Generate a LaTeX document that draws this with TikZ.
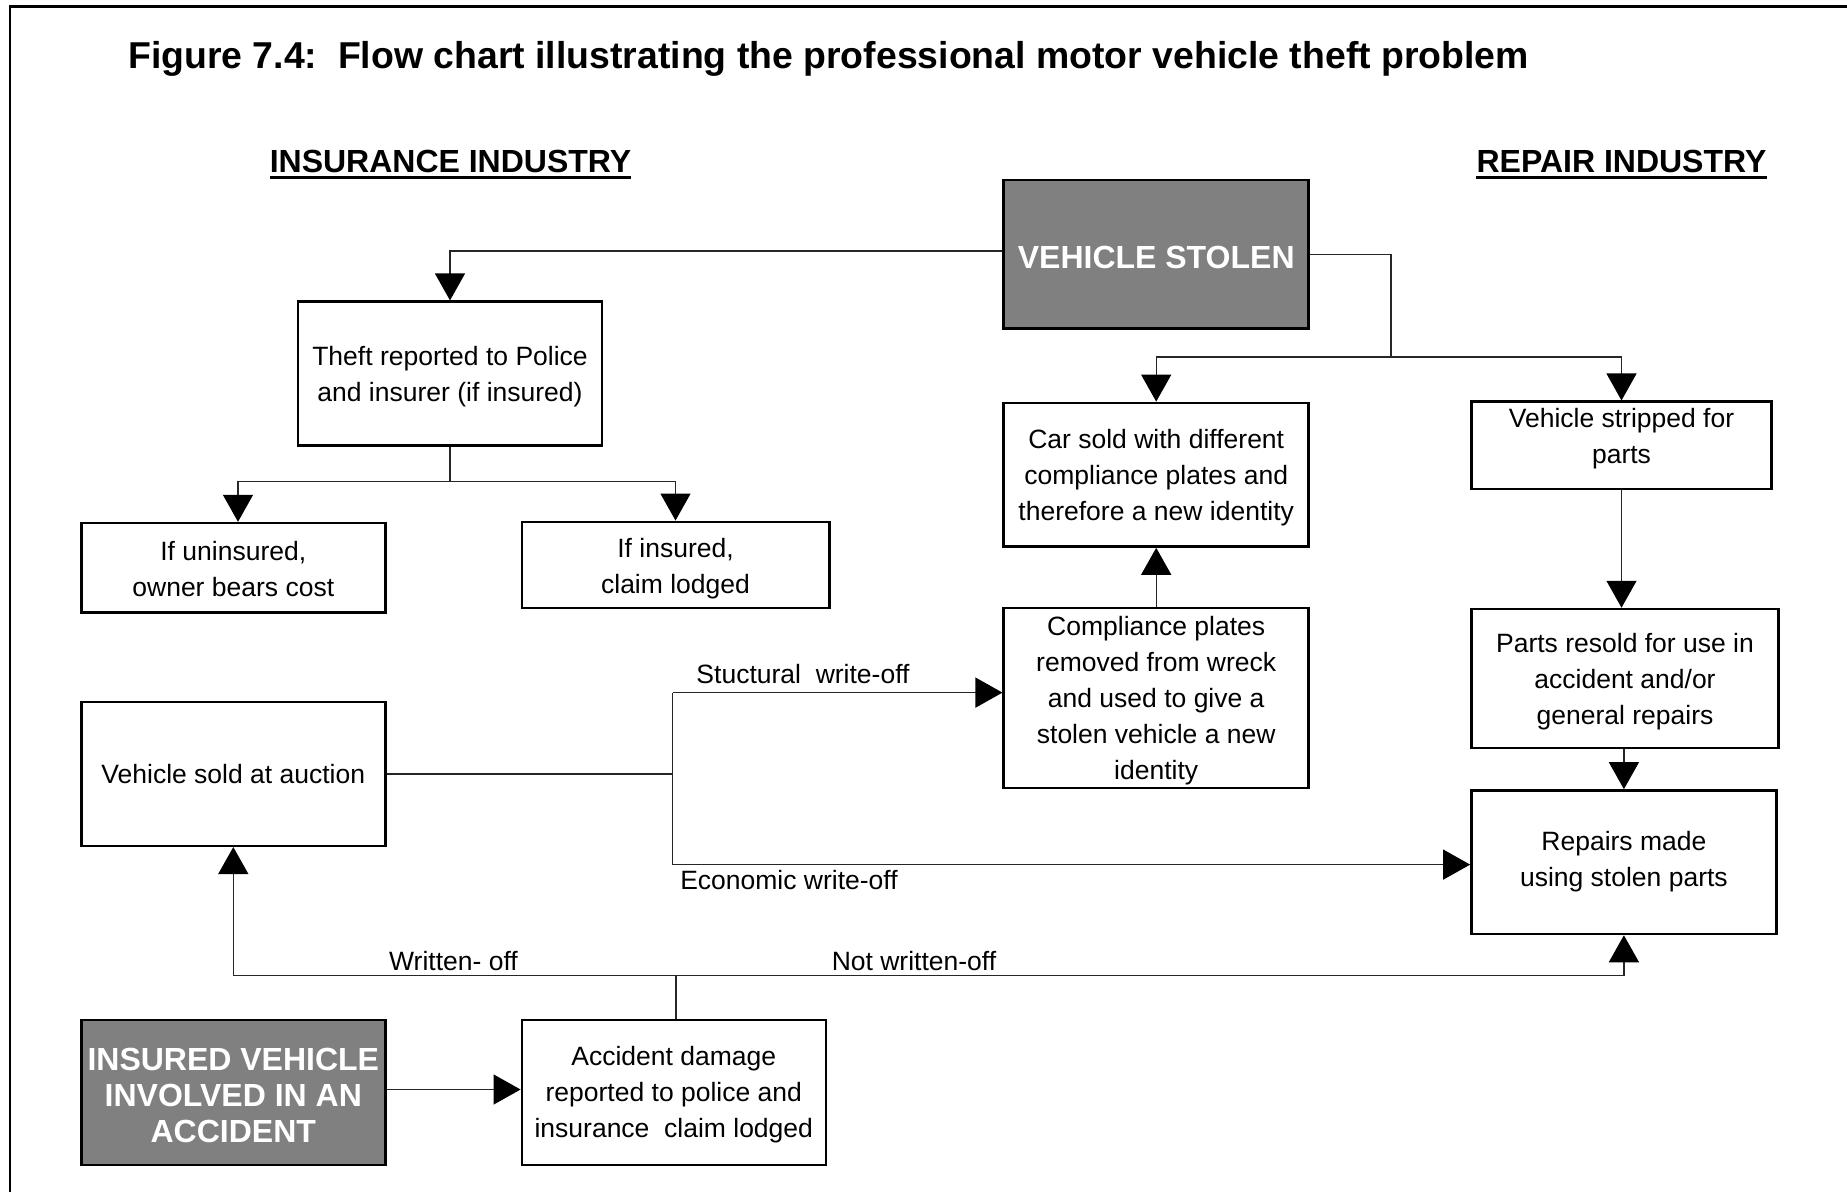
\documentclass[tikz,border=0pt]{standalone}
\usepackage{fontspec}
\setmainfont{Liberation Sans}
\usetikzlibrary{arrows.meta}
\definecolor{boxgray}{HTML}{808080}
\newcommand\tstrut[1]{\rule{0pt}{#1}}
\tikzset{
  box/.style={draw=black, line width=2.5pt, rectangle, align=center, inner sep=0pt, font=\fontsize{26.5}{36}\selectfont},
  darkbox/.style={box, fill=boxgray, text=white, font=\fontsize{32}{36}\selectfont\bfseries},
  conn/.style={line width=1.3pt, draw=black!85},
  arr/.style={conn, -{Triangle[length=27pt,width=30pt,color=black]}},
  lbl/.style={font=\fontsize{26.5}{32}\selectfont, inner sep=0pt},
  hdr/.style={font=\fontsize{32}{36}\selectfont\bfseries, inner sep=0pt},
}
\begin{document}
\begin{tikzpicture}[x=1pt,y=-1pt]
\useasboundingbox (0,0) rectangle (1847,1192);
% frame
\draw[line width=2.5pt] (10,1192) -- (10,6.5) -- (1847,6.5);
% title
\node[anchor=west, inner sep=0pt, font=\fontsize{37.4}{40}\selectfont\bfseries] (title) at (128,58.5) {Figure 7.4:\ \ Flow chart illustrating the professional motor vehicle theft problem};
% headers
\node[hdr] (hins) at (450.5,161.5) {INSURANCE INDUSTRY};
\draw[line width=3pt] ([yshift=-4.5pt]hins.base west) -- ([yshift=-4.5pt]hins.base east);
\node[hdr] (hrep) at (1621.5,161.5) {REPAIR INDUSTRY};
\draw[line width=3pt] ([yshift=-4.5pt]hrep.base west) -- ([yshift=-4.5pt]hrep.base east);
% boxes
\node[darkbox, minimum width=305pt, minimum height=148.4pt] (vs) at (1156.2,254.4) {\tstrut{27.5pt}VEHICLE STOLEN};
\node[box, minimum width=304pt, minimum height=143.7pt] (theft) at (450,373.5) {\tstrut{26pt}Theft reported to Police\\and insurer (if insured)};
\node[box, minimum width=304pt, minimum height=89.5pt] (unins) at (233.3,567.8) {\tstrut{21.5pt}If uninsured,\\owner bears cost};
\node[box, minimum width=307.5pt, minimum height=86pt] (ins) at (675.5,564.8) {\tstrut{26.5pt}If insured,\\claim lodged};
\node[box, minimum width=305pt, minimum height=143.7pt] (carsold) at (1156.2,474.7) {\tstrut{25.5pt}Car sold with different\\compliance plates and\\therefore a new identity};
\node[box, minimum width=300pt, minimum height=87.2pt,
  label={[lbl, align=center, font=\fontsize{26.5}{36}\selectfont, yshift=7pt]center:Vehicle stripped for\\parts}] (stripped) at (1621.5,445.3) {};
\node[box, minimum width=305pt, minimum height=180.2pt] (compl) at (1156.2,697.9) {\tstrut{24.5pt}Compliance plates\\removed from wreck\\and used to give a\\stolen vehicle a new\\identity};
\node[box, minimum width=307.4pt, minimum height=139pt] (parts) at (1625,678.5) {\tstrut{26pt}Parts resold for use in\\accident and/or\\general repairs};
\node[box, minimum width=305pt, minimum height=143.6pt,
  label={[lbl, align=center, font=\fontsize{26.5}{36}\selectfont, yshift=1pt]center:Repairs made\\using stolen parts}] (repairs) at (1623.9,862.2) {};
\node[box, minimum width=304pt, minimum height=143.8pt] (auction) at (233.3,773.9) {Vehicle sold at auction};
\node[darkbox, minimum width=304pt, minimum height=145pt] (insveh) at (233.3,1092.5) {\tstrut{27.5pt}INSURED VEHICLE\\INVOLVED IN AN\\ACCIDENT};
\node[box, minimum width=304pt, minimum height=145pt] (accid) at (673.8,1092.5) {\tstrut{23.5pt}Accident damage\\reported to police and\\insurance\ \ claim lodged};
% connectors
\draw[arr] ([yshift=3.5pt]vs.west) -| (theft.north);
\coordinate (j1) at (1391,357);
\draw[conn] (vs.east) -| (j1);
\draw[arr] (j1) -| (carsold.north);
\draw[arr] (j1) -| (stripped.north);
\coordinate (j2) at (450,481.8);
\draw[conn] (theft.south) -- (j2);
\draw[arr] (j2) -| ([xshift=4.7pt]unins.north);
\draw[arr] (j2) -| (ins.north);
\draw[arr] (compl.north) -- (carsold.south);
\draw[arr] (stripped.south) -- (stripped.south |- parts.north);
\draw[arr] (repairs.north |- parts.south) -- (repairs.north);
\coordinate (j3) at (672.6,773.9);
\coordinate (j3t) at (672.6,692.6);
\coordinate (j3b) at (672.6,864.6);
\draw[conn] (auction.east) -- (j3);
\draw[conn] (j3t) -- (j3b);
\draw[arr] (j3t) -- (j3t -| compl.west);
\draw[arr] (j3b) -- (j3b -| repairs.west);
\coordinate (j4) at (676,975.4);
\draw[conn] (j4 |- accid.north) -- (j4);
\draw[arr] (j4) -| (auction.south);
\draw[arr] (j4) -| (repairs.south);
\draw[arr] ([yshift=3pt]insveh.east) -- ([yshift=3pt]accid.west);
% labels
\node[lbl] (lstruct) at (803,673.8) {Stuctural\ \ write-off};
\node[lbl] (lecon) at (789,880) {Economic write-off};
\node[lbl] (lwrit) at (453.5,961) {Written- off};
\node[lbl] (lnot) at (914,961) {Not written-off};
\end{tikzpicture}
\end{document}
